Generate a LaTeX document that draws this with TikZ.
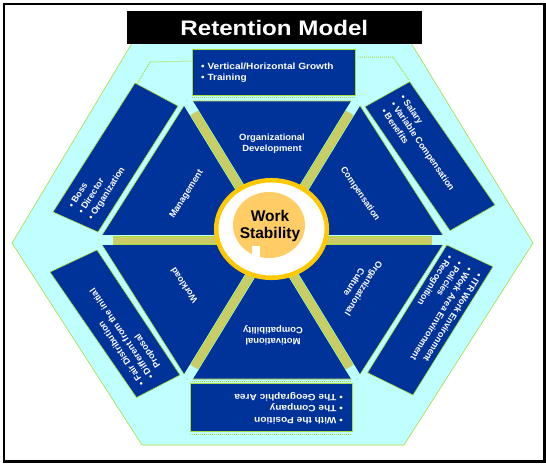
\documentclass[tikz,border=0pt]{standalone}
\usepackage{fontspec}
\setmainfont{Liberation Sans}
\usetikzlibrary{calc}
\definecolor{hcyan}{RGB}{192,255,255}
\definecolor{hblue}{RGB}{0,51,153}
\definecolor{holive}{RGB}{204,204,102}
\definecolor{hlime}{RGB}{170,220,60}
\definecolor{hyellow}{RGB}{255,200,0}
\definecolor{hpeach}{RGB}{255,204,102}
\tikzset{
  sector/.style={fill=hblue, draw=hlime, line width=0.6pt},
  tbox/.style={fill=hblue, draw=hlime, line width=0.6pt},
  gapline/.style={draw=hcyan, line width=10pt},
  spokeedge/.style={draw=hlime, line width=9pt},
  spokecore/.style={draw=holive, line width=7pt},
  boxtxt/.style={text=white, font=\fontsize{9}{11.5}\selectfont\bfseries, align=left, inner sep=0pt, anchor=west},
  sectxt/.style={text=white, font=\fontsize{9}{11}\selectfont\bfseries, align=center, inner sep=0pt},
  deco/.style={draw=hlime, line width=1pt, densely dotted},
}
\begin{document}
\begin{tikzpicture}[x=1pt,y=-1pt]
\fill[white] (0,0) rectangle (546,466);
\useasboundingbox (0,0) rectangle (546,466);

% outer hexagon
\path[fill=hcyan, draw=hlime, line width=0.6pt]
  (132,43) -- (411,43) -- (533,243) -- (404,445) -- (142,445) -- (12,243) -- cycle;

% decorative dotted traces
\draw[deco] (137,84) -- (150,62) -- (191,61);
\draw[deco] (409,80) -- (393,57) -- (358,57);
\draw[deco] (192,97.5) -- (356,97.5);
\draw[deco] (190,381) -- (352,381);
\draw[deco] (190,434) -- (352,434);

% centre and inner hexagon vertices
\coordinate (O) at (272,240);
\coordinate (VTL) at (187,101);
\coordinate (VTR) at (357,101);
\coordinate (VR) at (446,240);
\coordinate (VBR) at (357,379);
\coordinate (VBL) at (187,379);
\coordinate (VL) at (99,240);

% sectors
\draw[sector] (O) -- (VTL) -- (VTR) -- cycle;
\draw[sector] (O) -- (VTR) -- (VR) -- cycle;
\draw[sector] (O) -- (VR) -- (VBR) -- cycle;
\draw[sector] (O) -- (VBR) -- (VBL) -- cycle;
\draw[sector] (O) -- (VBL) -- (VL) -- cycle;
\draw[sector] (O) -- (VL) -- (VTL) -- cycle;

% spokes
\foreach \v in {VTL,VTR,VR,VBR,VBL,VL}{
  \draw[gapline] (O) -- (\v);
  \draw[spokeedge] (O) -- ($(\v)!14pt!(O)$);
  \draw[spokecore] (O) -- ($(\v)!14pt!(O)$);
}

% outer text boxes
\draw[tbox] (192.5,49) rectangle (355.5,95);
\draw[tbox] (190,383) rectangle (352,431.5);
\draw[tbox] (135,83) -- (178,106) -- (98,232) -- (53,212) -- cycle;
\draw[tbox] (409.7,81.7) -- (495,205) -- (450,230.7) -- (365,106.7) -- cycle;
\draw[tbox] (446.8,245) -- (493,266.7) -- (413,395) -- (367.5,372.7) -- cycle;
\draw[tbox] (97,250) -- (180,375) -- (136.5,397.5) -- (50,272) -- cycle;

% box texts
\node[boxtxt, xscale=1.12] (tTop) at (201,72.5) {• Vertical/Horizontal Growth\\• Training};
\node[boxtxt, rotate=57.6] (tUL) at (80.9,213.6) {• Boss\\• Director\\• Organization};
\node[boxtxt, rotate=-55.5] (tUR) at (393,102.5) {• Salary\\• Variable Compensation\\• Benefits};
\node[boxtxt, rotate=-121.9] (tLR) at (464.6,264.4) {• ITR Work Environment\\• Work Area Environment\\• Policies\\• Recognition};
\node[boxtxt, rotate=180, xscale=1.12] (tBot) at (343,408) {• With the Position\\• The Company\\• The Geographic Area};
\node[boxtxt, rotate=123.9] (tLL) at (152.4,378.2) {• Fair Distribution\\• Different from the initial\\\phantom{• }Proposal};

% sector labels
\node[sectxt, xscale=1.05] (sOD) at (272,143.5) {Organizational\\Development};
\node[sectxt, rotate=57.6] (sMg) at (186.7,194.5) {Management};
\node[sectxt, rotate=-55.5] (sCo) at (360,194) {Compensation};
\node[sectxt, rotate=-122] (sCu) at (359,285.5) {Organizational\\Culture};
\node[sectxt, rotate=180, xscale=1.05] (sMo) at (273,335) {Motivational\\Compatibility};
\node[sectxt, rotate=124] (sWl) at (184,285.5) {Workload};

% centre circle
\draw[hyellow, line width=4.5pt, fill=white] (271.5,229) ellipse [x radius=55.3pt, y radius=48.8pt];
\fill[hpeach] (269,225) ellipse [x radius=36pt, y radius=33pt];
\fill[white] (252,246) rectangle (260,258.5);
\node[font=\fontsize{15.5}{17}\selectfont\bfseries, align=center, inner sep=0pt] (ws) at (270,226) {Work\\Stability};

% title
\fill[black] (127,11) rectangle (422,44.3);
\node[font=\fontsize{21}{21}\selectfont\bfseries, text=white, inner sep=0pt, xscale=1.15] (title) at (274.3,27.5) {Retention Model};

% frame
\draw[line width=2.5pt] (4,3.8) rectangle (544.5,461.3);
\end{tikzpicture}
\end{document}
